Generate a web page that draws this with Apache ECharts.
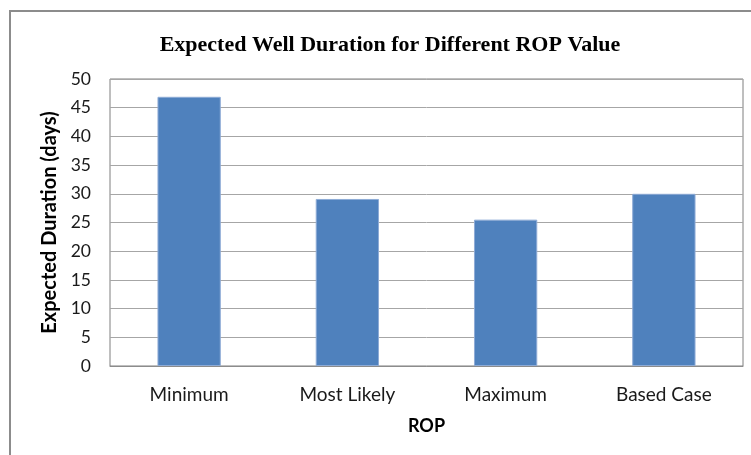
<!DOCTYPE html>
<html>
<head>
<meta charset="utf-8">
<script src="https://cdn.jsdelivr.net/npm/echarts@6/dist/echarts.min.js"></script>
<style>
  html, body { margin: 0; padding: 0; background: #fff; }
  #chart { width: 751px; height: 455px; }
</style>
</head>
<body>
<div id="chart"></div>
<script>
// ROP scenarios and the expected well duration (days) for each
const categories = ['Minimum', 'Most Likely', 'Maximum', 'Based Case'];
const durations = [46.9, 29.1, 25.5, 30.0];
const yTicks = { min: 0, max: 50, interval: 5 };

const chart = echarts.init(document.getElementById('chart'), null, { renderer: 'canvas' });

const labelFont = 'Lato, "Open Sans", sans-serif';

chart.setOption({
  animation: false,
  backgroundColor: '#ffffff',
  title: {
    text: 'Expected Well Duration for Different ROP Value',
    left: 385,
    top: 29,
    textAlign: 'center',
    textStyle: {
      fontFamily: '"Liberation Serif", "Times New Roman", serif',
      fontWeight: 'bold',
      fontSize: 22,
      color: '#000'
    }
  },
  graphic: [{
    type: 'rect',
    shape: { x: 10, y: 11, width: 760, height: 470 },
    style: { fill: 'none', stroke: '#8c8c8c', lineWidth: 2 },
    silent: true,
    z: -1
  }],
  grid: {
    left: 110,
    top: 79,
    right: 8,
    bottom: 89,
    show: true,
    borderColor: '#7f7f7f',
    borderWidth: 1,
    backgroundColor: 'transparent'
  },
  xAxis: {
    type: 'category',
    data: categories,
    name: 'ROP',
    nameLocation: 'middle',
    nameGap: 51,
    nameTextStyle: {
      fontFamily: labelFont,
      fontWeight: 'bold',
      fontSize: 18,
      color: '#000'
    },
    axisLine: { show: true, lineStyle: { color: '#8c8c8c', width: 1 } },
    axisTick: { show: false },
    axisLabel: {
      margin: 19,
      fontFamily: labelFont,
      fontSize: 19,
      color: '#1a1a1a'
    }
  },
  yAxis: {
    type: 'value',
    min: yTicks.min,
    max: yTicks.max,
    interval: yTicks.interval,
    name: 'Expected Duration (days)',
    nameLocation: 'middle',
    nameGap: 50,
    nameTextStyle: {
      fontFamily: labelFont,
      fontWeight: 'bold',
      fontSize: 20,
      color: '#000'
    },
    axisLine: { show: false },
    axisTick: { show: false },
    axisLabel: {
      margin: 19,
      fontFamily: labelFont,
      fontSize: 17.5,
      color: '#1a1a1a'
    },
    splitLine: { show: true, lineStyle: { color: '#a6a6a6', width: 1 } }
  },
  series: [{
    type: 'bar',
    data: durations,
    barWidth: '40%',
    itemStyle: {
      color: '#4f81bd',
      borderColor: '#8eabd6',
      borderWidth: 1
    }
  }]
});
</script>
</body>
</html>
